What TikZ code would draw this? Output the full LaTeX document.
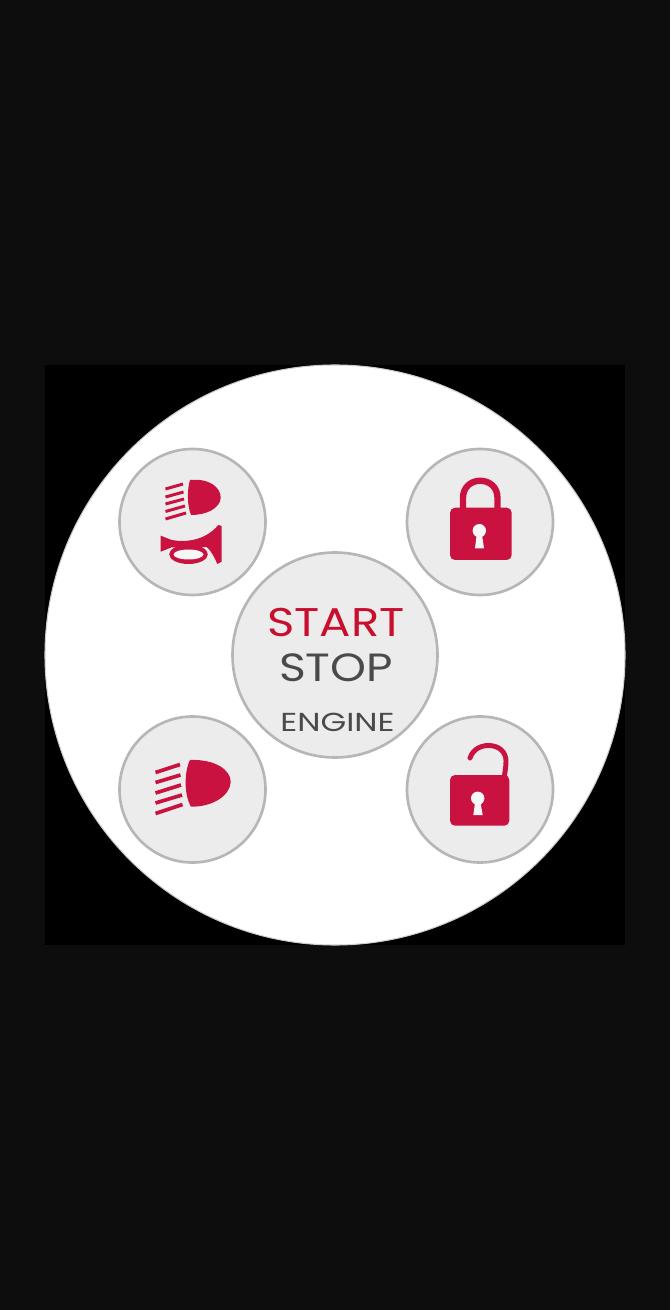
\documentclass[tikz,border=0pt]{standalone}
\usepackage{fontspec}
\setmainfont{Poppins}
\definecolor{outerbg}{HTML}{0D0D0D}
\definecolor{keyred}{HTML}{C9123F}
\definecolor{startred}{HTML}{C8102E}
\definecolor{stopgray}{HTML}{4A4A4A}
\definecolor{btnfill}{HTML}{ECECEC}
\definecolor{btnedge}{HTML}{B6B6B6}
\tikzset{
	btn/.style={fill=btnfill,draw=btnedge,line width=0.75pt},
	icon/.style={fill=keyred,draw=none},
	beam/.style={draw=keyred,line width=#1},
	hole/.style={fill=btnfill!40!white,draw=none},
	shackle/.style={draw=keyred,line width=#1},
	lbl/.style={inner sep=0pt,anchor=center}
}
\begin{document}
\begin{tikzpicture}[x=0.01cm,y=-0.01cm]
	\fill[outerbg] (0,0) rectangle (670,1310);
	\useasboundingbox (0,0) rectangle (670,1310);
	\fill[black] (45,365) rectangle (625,945);
	\filldraw[fill=white,draw=btnedge!70,line width=0.3pt] (335,655) circle (290);
	\filldraw[btn] (192.5,522) circle (73);
	\filldraw[btn] (480,522) circle (73);
	\filldraw[btn] (192.5,789.5) circle (73);
	\filldraw[btn] (480,789.5) circle (73);
	\filldraw[btn] (335,655) circle (102.5);
	% small beam and horn
	\fill[icon] (190,480) .. controls (210,478) and (221,488) .. (220.7,498) .. controls (220,508) and (207,515) .. (191,515) .. controls (187,505) and (187,490) .. (190,480) -- cycle;
	\foreach \ya/\yb/\xb in {489/484/183,497/492/183.5,504/499/184,511.5/506/185,519/513/186}
		\draw[beam=0.85pt] (165.5,\ya) -- (\xb,\yb);
	\fill[icon] (160.7,535.7) -- (171.7,540) .. controls (185,542.5) and (205,541) .. (218.3,525) -- (221.7,526) -- (221.7,561.7) -- (217.3,564) .. controls (214,556) and (211,551) .. (206.7,547) -- (171.7,547.3) -- (160.7,551.7) -- cycle;
	\fill[icon] (188.5,554.3) ellipse (19.3 and 9.7);
	\fill[hole] (188.5,554.5) ellipse (15 and 5);
	% large beam
	\fill[icon] (190,760) .. controls (215,759) and (231,770) .. (230.7,782) .. controls (230,796) and (212,807) .. (191,806.7) .. controls (184,795) and (184,772) .. (190,760) -- cycle;
	\foreach \ya/\yb/\xb in {772.5/764.5/180,782.5/775/180.5,793/785/181,803/795/182,813.5/804.5/182.5}
		\draw[beam=1.05pt] (155.5,\ya) -- (\xb,\yb);
	% closed lock
	\draw[shackle=1.8pt] (463,512) -- (463,498) .. controls (463,475) and (497.5,475) .. (497.5,498) -- (497.5,512);
	\fill[icon,rounded corners=0.05cm] (450,507.7) rectangle (511.7,560);
	\fill[hole] (479.3,530.7) circle (6.7);
	\fill[hole] (477,532) -- (475,548.3) -- (484,548.3) -- (481.6,532) -- cycle;
	% open lock
	\draw[shackle=1.4pt,line cap=round] (470,758) .. controls (473,749) and (481,745.5) .. (488.5,745.5) .. controls (499,745.5) and (506,752) .. (506,761) .. controls (506,767) and (505,772) .. (504,778);
	\fill[icon,rounded corners=0.05cm] (450,775) rectangle (509.3,825.7);
	\fill[hole] (477.7,798.3) circle (6.7);
	\fill[hole] (475.4,800) -- (473.3,815) -- (482.7,815) -- (480,800) -- cycle;
	% labels
	\node[lbl,text=startred,xscale=1.16,font=\fontsize{11.4}{12}\selectfont] (start) at (336,622.5) {START};
	\node[lbl,text=stopgray,xscale=1.16,font=\fontsize{11.2}{12}\selectfont] (stop) at (336,668) {STOP};
	\node[lbl,text=stopgray,xscale=1.27,font=\fontsize{7.4}{8}\selectfont] (engine) at (337.5,722.5) {ENGINE};
\end{tikzpicture}
\end{document}
